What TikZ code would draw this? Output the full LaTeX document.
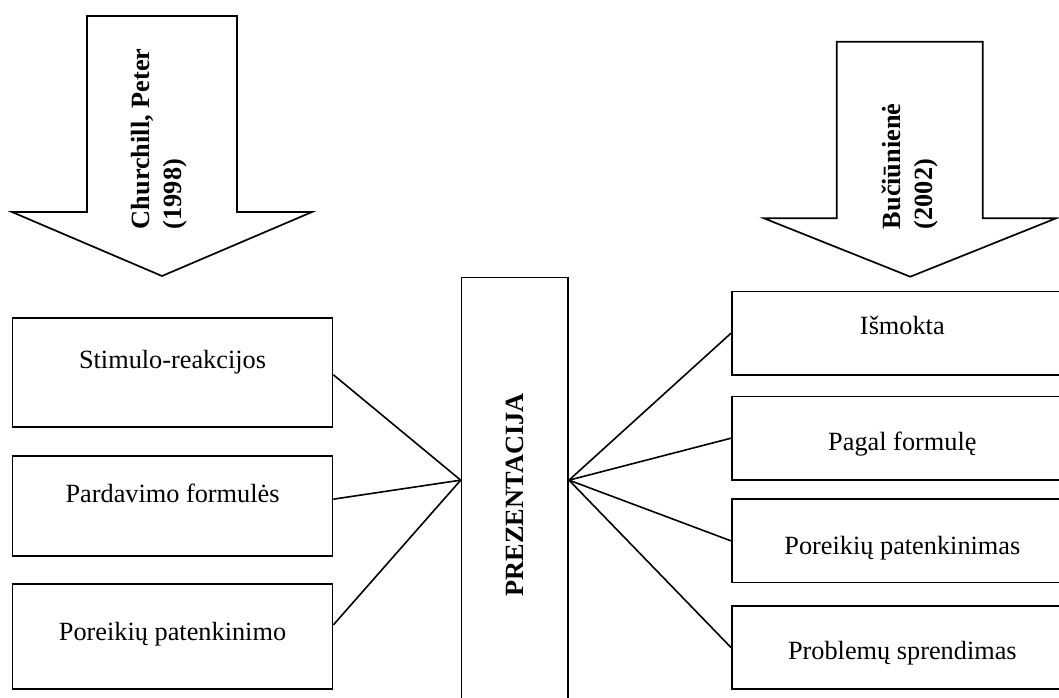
\documentclass[tikz,border=0pt]{standalone}
\usepackage{fontspec}
\usepackage{graphicx}
\setmainfont{Liberation Serif}
\usetikzlibrary{calc}

\begin{document}
\begin{tikzpicture}[x=1pt, y=-1pt, line width=1.7pt, line join=miter,
  txtfont/.style={font=\fontsize{26.3}{32}\selectfont},
  % framed box whose label baseline sits at a given depth from the top edge
  itembox/.style 2 args={draw, rectangle, inner sep=0pt, anchor=north west,
    txtfont, text height=#1, text depth=#2},
  hubbox/.style={draw, rectangle, inner sep=0pt, anchor=north west, txtfont},
  arrowtxt/.style={rotate=90, anchor=base west, inner sep=0pt, txtfont},
  arrowshape/.style={draw, fill=white},
  link/.style={draw, line width=1.6pt}]

\useasboundingbox (0,0) rectangle (1059,697);
\fill[white] (0,0) rectangle (1059,697);
\clip (0,0) rectangle (1059,697);

% block arrows coming down from the sources
\draw[arrowshape] (87,16) -- (237,16) -- (237,212) -- (312,212) -- (162,276)
  -- (12,212) -- (87,212) -- cycle;
\node[arrowtxt] (srcL) at (149.5,230)
  {\bfseries\begin{tabular}[t]{@{}l@{}}Churchill, Peter\\(1998)\end{tabular}};

\draw[arrowshape] (836.7,41.7) -- (982.7,41.7) -- (982.7,218.3) -- (1056,218.3)
  -- (910.3,276.7) -- (764,218.3) -- (836.7,218.3) -- cycle;
\node[arrowtxt] (srcR) at (900,230)
  {\bfseries\begin{tabular}[t]{@{}l@{}}Bučiūnienė\\(2002)\end{tabular}};

% central block
\node[hubbox, minimum width=106.6pt, minimum height=434.6pt] (pres)
  at (460.7,276.7) {\rotatebox{90}{\bfseries PREZENTACIJA}};

% left column
\node[itembox={50pt}{58.7pt}, minimum width=320pt] (l1) at (11.7,317.3)
  {Stimulo-reakcijos};
\node[itembox={46.7pt}{53.3pt}, minimum width=320pt] (l2) at (11.7,455)
  {Pardavimo formulės};
\node[itembox={56pt}{49pt}, minimum width=320pt] (l3) at (11.7,583.3)
  {Poreikių patenkinimo};

% right column
\node[itembox={42.6pt}{40.7pt}, minimum width=341pt] (r1) at (731,290.7)
  {Išmokta};
\node[itembox={54.3pt}{29pt}, minimum width=341pt] (r2) at (731,395.7)
  {Pagal formulę};
\node[itembox={55.7pt}{27.7pt}, minimum width=341pt] (r3) at (731,498.3)
  {Poreikių patenkinimas};
\node[itembox={53.3pt}{30pt}, minimum width=341pt] (r4) at (731,605)
  {Problemų sprendimas};

% connectors
\draw[link] ([yshift=-2.3pt]l1.east) -- ([yshift=14.7pt]pres.west);
\draw[link] ([yshift=6.7pt]l2.east) -- ([yshift=14.7pt]pres.west);
\draw[link] ([yshift=11.8pt]l3.east) -- ([yshift=14.7pt]pres.west);
\draw[link] ([yshift=14.7pt]pres.east) -- (r1.west);
\draw[link] ([yshift=14.7pt]pres.east) -- (r2.west);
\draw[link] ([yshift=14.7pt]pres.east) -- (r3.west);
\draw[link] ([yshift=14.7pt]pres.east) -- (r4.west);
\end{tikzpicture}
\end{document}
